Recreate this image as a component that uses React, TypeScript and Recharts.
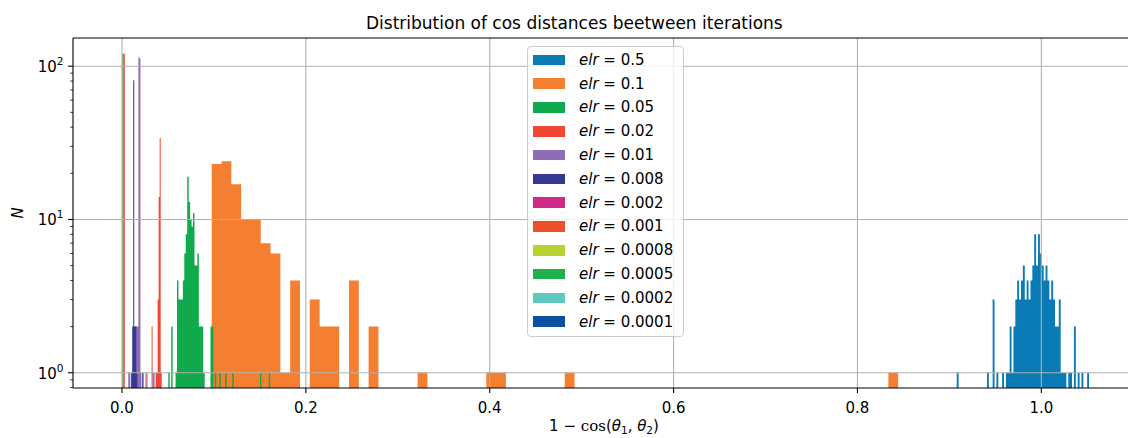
import {
  Area,
  ComposedChart,
  Label,
  Legend,
  ReferenceLine,
  XAxis,
  YAxis,
} from 'recharts';

document.body.style.margin = '0';

const FONT = '"DejaVu Sans", sans-serif';
const GRID = '#b0b0b0';
const FS = 15;

// one histogram per learning rate, drawn in this order
const elrLabels = ['0.5', '0.1', '0.05', '0.02', '0.01', '0.008', '0.002', '0.001', '0.0008', '0.0005', '0.0002', '0.0001'];
const elrColors = ['#0b7bb6', '#f47f30', '#10a94b', '#f14631', '#8d6db3', '#363894', '#d02a89', '#ec5029', '#b9d131', '#20b04c', '#5fc9c0', '#0b4fa0'];

// left edge of the first bin and bin width, per series
const binStarts = [0.908, 0.0976, 0.05036, 0.02448, 0.00685, 0.01001, 0.00265, 0.0012, 0.0, 0.0, 0.0, 0.0];
const binWidths = [0.002056, 0.010667, 0.001583, 0.0011, 0.0011, 0.0011, 0.0004, 0.0017, 0.0012, 0.0002, 0.0002, 0.0002];

// counts per bin
const countsElr05 = [
  1, 0, 0, 0, 0, 0, 0, 0, 0, 0,
  0, 0, 0, 0, 0, 0, 1, 0, 0, 3,
  0, 1, 0, 0, 1, 0, 1, 1, 2, 1,
  2, 3, 4, 3, 4, 5, 3, 4, 3, 4,
  5, 8, 5, 8, 6, 5, 4, 5, 4, 3,
  4, 3, 2, 2, 3, 1, 1, 1, 0, 1,
  1, 0, 2, 0, 1, 0, 1, 0, 0, 1,
];
const countsElr01 = [
  23, 24, 17, 10, 10, 7, 6, 1, 4, 0,
  3, 2, 2, 0, 4, 0, 2, 0, 0, 0,
  0, 1, 0, 0, 0, 0, 0, 0, 1, 1,
  0, 0, 0, 0, 0, 0, 1, 0, 0, 0,
  0, 0, 0, 0, 0, 0, 0, 0, 0, 0,
  0, 0, 0, 0, 0, 0, 0, 0, 0, 0,
  0, 0, 0, 0, 0, 0, 0, 0, 0, 1,
];
const countsElr005 = [
  1, 0, 2, 0, 0, 1, 4, 3, 3, 3,
  4, 6, 8, 19, 13, 10, 9, 11, 5, 5,
  6, 2, 2, 2, 1, 0, 0, 0, 0, 2,
  2, 0, 1, 0, 0, 1, 0, 0, 0, 1,
  0, 0, 0, 0, 1, 0, 0, 0, 0, 0,
  0, 0, 0, 0, 0, 0, 0, 0, 0, 0,
  0, 0, 0, 1, 0, 0, 0, 0, 0, 1,
];
const countsElr002 = [0, 1, 0, 0, 0, 0, 0, 2, 0, 0, 0, 1, 1, 3, 14, 34, 1];
const countsElr001 = [1, 1, 0, 1, 1, 0, 2, 2, 2, 2, 115, 112, 1, 0, 1, 0, 0, 0, 1, 0, 0, 0, 0, 0, 1, 1];
const countsElr0008 = [1, 2, 81, 2, 2, 1, 0, 0, 0, 0, 0, 1];
const countsElr0002 = [118];
const countsElr0001 = [121];
const countsElr00008 = [120];
const countsElr00005 = [120];
const countsElr00002 = [120];
const countsElr00001 = [120];

const elrCounts = [
  countsElr05, countsElr01, countsElr005, countsElr002, countsElr001, countsElr0008,
  countsElr0002, countsElr0001, countsElr00008, countsElr00005, countsElr00002, countsElr00001,
];

const xTicks = [0, 0.2, 0.4, 0.6, 0.8, 1.0];
const yMajor = [1, 10, 100];
const yMinor = [0.8, 0.9, 2, 3, 4, 5, 6, 7, 8, 9, 20, 30, 40, 50, 60, 70, 80, 90];

const xMin = -0.0533;
const xMax = 1.0943;
const yMin = 0.795;
const yMax = 152.7;

// step outline of each histogram: one point per bin edge, empty bins sit on the floor
const histograms = elrCounts.map((counts, s) => [
  ...counts.map((n, i) => ({ x: binStarts[s] + i * binWidths[s], n: n > 0 ? n : yMin })),
  { x: binStarts[s] + counts.length * binWidths[s], n: yMin },
]);

const XTick = ({ x, y, payload }: any) => (
  <g>
    <line x1={x} x2={x} y1={y} y2={y + 4.9} stroke="#000" strokeWidth={1.1} />
    <text x={x} y={y + 25} textAnchor="middle" fontFamily={FONT} fontSize={FS} fill="#000">
      {Number(payload.value).toFixed(1)}
    </text>
  </g>
);

const YTick = ({ x, y, payload }: any) => {
  const major = yMajor.includes(payload.value);
  return (
    <g>
      <line x1={x - (major ? 4.9 : 2.8)} x2={x} y1={y} y2={y} stroke="#000" strokeWidth={major ? 1.1 : 0.8} />
      {major && (
        <text x={x - 9.5} y={y + 5.8} textAnchor="end" fontFamily={FONT} fontSize={FS} fill="#000">
          10
          <tspan dy={-7} fontSize={10.5}>
            {Math.round(Math.log10(payload.value))}
          </tspan>
        </text>
      )}
    </g>
  );
};

const ElrLegend = () => (
  <div
    style={{
      width: 157,
      height: 291,
      boxSizing: 'border-box',
      border: '1px solid #cccccc',
      borderRadius: 4,
      background: 'rgba(255,255,255,0.8)',
      fontFamily: FONT,
      fontSize: FS,
      color: '#000',
      paddingTop: 1,
    }}
  >
    {elrLabels.map((label, i) => (
      <div key={label} style={{ height: 23.8, display: 'flex', alignItems: 'center' }}>
        <span style={{ width: 32, height: 10.5, marginLeft: 5, background: elrColors[i] }} />
        <span style={{ marginLeft: 14, whiteSpace: 'nowrap' }}>
          <i>elr</i> = {label}
        </span>
      </div>
    ))}
  </div>
);

export default function App() {
  return (
    <div style={{ position: 'relative', width: 1128, height: 438 }}>
      <div
        style={{
          position: 'absolute',
          left: 366,
          width: 400,
          top: 13,
          textAlign: 'center',
          fontFamily: FONT,
          fontSize: 17,
          lineHeight: '20px',
          color: '#000',
          whiteSpace: 'nowrap',
          zIndex: 2,
        }}
      >
        Distribution of cos distances beetween iterations
      </div>
      <ComposedChart width={1128} height={438} margin={{ top: 38, right: 0, bottom: 0, left: 0 }}>
        <XAxis
          dataKey="x"
          type="number"
          domain={[xMin, xMax]}
          allowDataOverflow
          ticks={xTicks}
          interval={0}
          height={50}
          tickSize={0}
          tickMargin={0}
          tickLine={false}
          tick={<XTick />}
          axisLine={{ stroke: '#000', strokeWidth: 1.1 }}
        >
          <Label
            content={() => (
              <text x={604} y={431} textAnchor="middle" fontFamily={FONT} fontSize={FS} fill="#000">
                1 − <tspan fontFamily='"DejaVu Serif", serif'>cos</tspan>(<tspan fontStyle="italic">θ</tspan>
                <tspan fontSize={10.5} dy={3}>1</tspan>
                <tspan dy={-3}>, </tspan>
                <tspan fontStyle="italic">θ</tspan>
                <tspan fontSize={10.5} dy={3}>2</tspan>
                <tspan dy={-3}>)</tspan>
              </text>
            )}
          />
        </XAxis>
        <YAxis
          type="number"
          scale="log"
          domain={[yMin, yMax]}
          allowDataOverflow
          ticks={[...yMinor, ...yMajor].sort((a, b) => a - b)}
          interval={0}
          width={73}
          tickSize={0}
          tickMargin={0}
          tickLine={false}
          tick={<YTick />}
          axisLine={{ stroke: '#000', strokeWidth: 1.1 }}
        >
          <Label
            content={() => (
              <text
                transform="translate(23,213) rotate(-90)"
                textAnchor="middle"
                fontFamily={FONT}
                fontSize={FS}
                fontStyle="italic"
                fill="#000"
              >
                N
              </text>
            )}
          />
        </YAxis>

        {histograms.map((data, s) => (
          <Area
            key={elrLabels[s]}
            data={data}
            dataKey="n"
            type="stepAfter"
            baseValue={yMin}
            fill={elrColors[s]}
            fillOpacity={1}
            stroke="none"
            dot={false}
            activeDot={false}
            isAnimationActive={false}
          />
        ))}

        {xTicks.map((v) => (
          <ReferenceLine key={`gx${v}`} x={v} stroke={GRID} strokeWidth={1.1} />
        ))}
        {yMajor.map((v) => (
          <ReferenceLine key={`gy${v}`} y={v} stroke={GRID} strokeWidth={1.1} />
        ))}
        <ReferenceLine y={yMax} stroke="#000" strokeWidth={1.1} />

        <Legend
          layout="vertical"
          align="center"
          verticalAlign="middle"
          wrapperStyle={{ left: 527, top: 46, width: 157, height: 291 }}
          content={() => <ElrLegend />}
        />
      </ComposedChart>
    </div>
  );
}
